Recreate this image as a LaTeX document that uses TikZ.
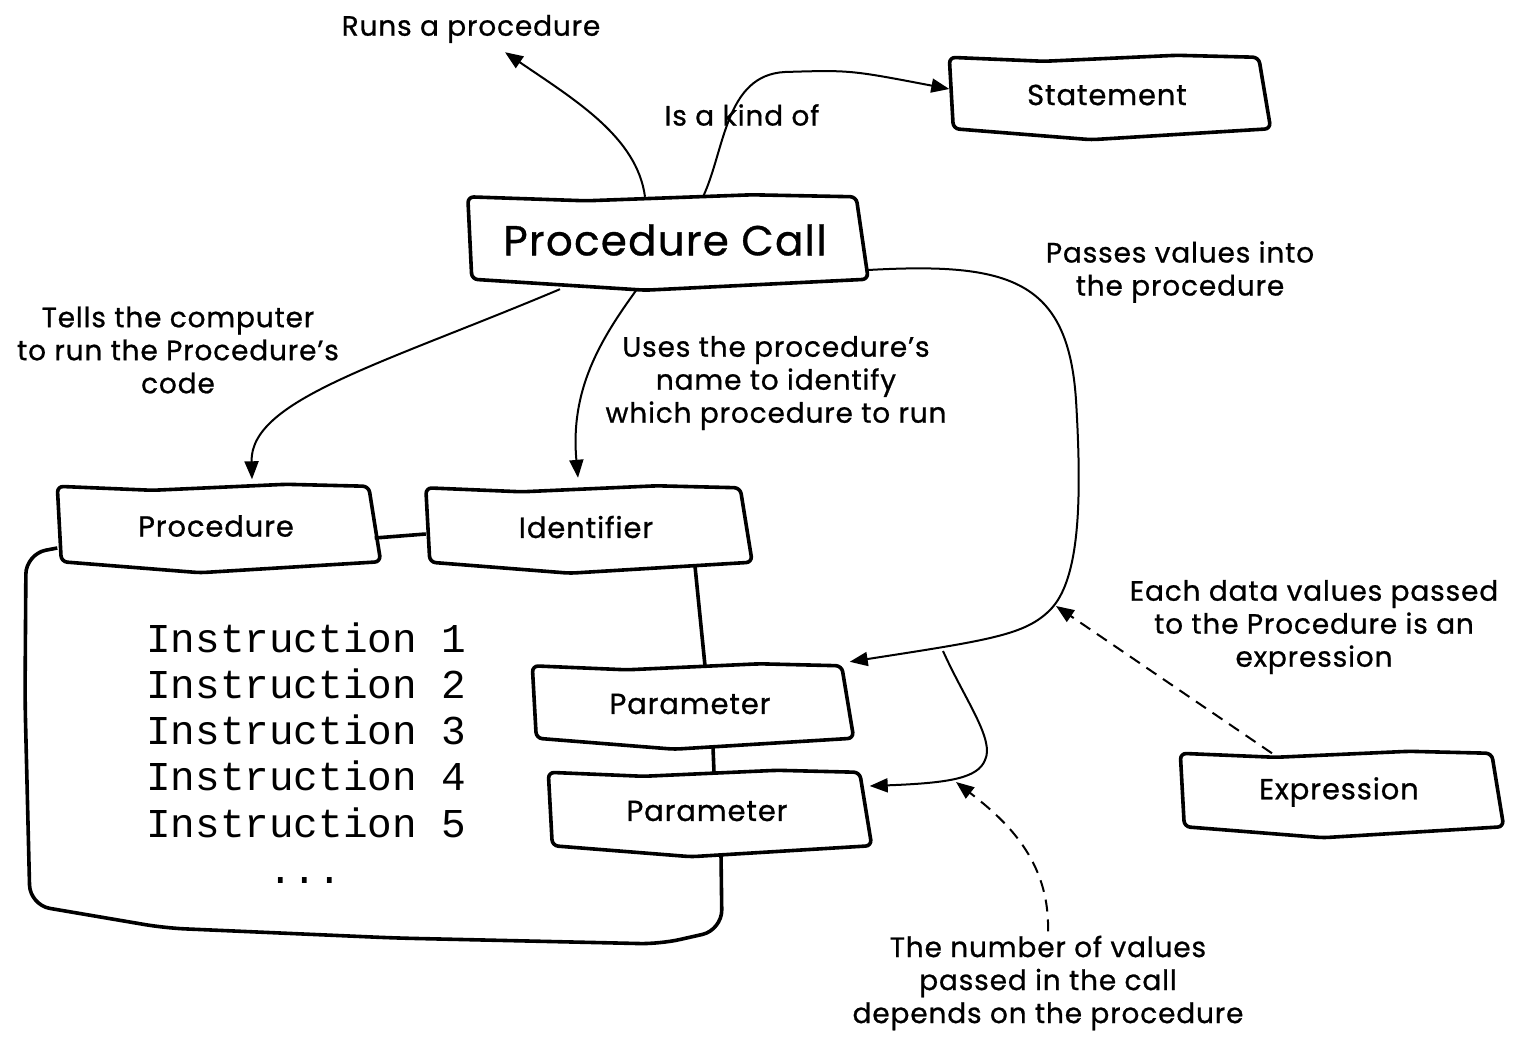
\documentclass[tikz,border=0pt]{standalone}
\usepackage{fontspec}
\setmainfont{Poppins}[LetterSpace=3,FakeBold=0.8]
\setmonofont{Liberation Mono}
\usetikzlibrary{arrows.meta,calc}

\tikzset{
  box/.style={inner sep=0pt, font=\fontsize{29}{33}\selectfont},
  outline/.style={line width=3.6pt, rounded corners=6pt, line join=round},
  link/.style={line width=3.6pt},
  conn/.style={line width=2pt, -{Triangle[length=18pt,width=14pt]}},
  hint/.style={conn, dash pattern=on 12pt off 8pt},
  note/.style={align=center, inner sep=0pt, font=\fontsize{28}{33}\selectfont},
  code/.style={inner sep=0pt, font=\ttfamily\fontsize{41}{46}\selectfont},
}

\begin{document}
\begin{tikzpicture}[x=1pt,y=-1pt]
  \useasboundingbox (0,0) rectangle (1518,1038);

  % boxes
  \node[box, minimum width=394pt, minimum height=86pt, font=\fontsize{42}{48}\selectfont] (call) at (665,240) {Procedure Call};
  \node[box, minimum width=315pt, minimum height=75pt] (stmt) at (1107,95) {Statement};
  \node[box, minimum width=317pt, minimum height=79pt] (proc) at (216,526) {Procedure};
  \node[box, minimum width=320pt, minimum height=78pt] (ident) at (586,527) {Identifier};
  \node[box, minimum width=315pt, minimum height=76pt] (parA) at (690,704) {Parameter};
  \node[box, minimum width=317pt, minimum height=77pt] (parB) at (707,811) {Parameter};
  \node[box, minimum width=317pt, minimum height=77pt] (expr) at (1339,792) {Expression};

  \foreach \n in {call,stmt,proc,ident,parA,parB,expr}
    \draw[outline] (\n.north west) -- ($(\n.north west)!0.3!(\n.north east)+(0,-4pt)$)
      -- ($(\n.north west)!0.72!(\n.north east)+(0,2pt)$) -- ($(\n.north east)+(-6pt,0)$)
      -- ($(\n.south east)+(6pt,4pt)$) -- ($(\n.south west)!0.45!(\n.south east)+(0,-7pt)$)
      -- ($(\n.south west)+(4pt,4pt)$) -- cycle;

  % procedure body
  \draw[outline, rounded corners=20pt] ([yshift=-22pt]proc.west) -- (26,554) -- (25,700)
    -- (30,905) -- (165,928) -- (395,938) -- (660,944) -- (722,930) -- ([xshift=14pt,yshift=-5pt]parB.south);
  \foreach \i in {1,...,5}
    \node[code, anchor=base west] (ins\i) at (146,605.75+46.25*\i) {Instruction \i};
  \node[code, anchor=base] (dots) at (305,883) {...};

  \draw[link] ([yshift=-12pt]proc.east) -- ([yshift=-7pt]ident.west);
  \draw[link] ([xshift=109pt]ident.south) -- ([xshift=15pt]parA.north);
  \draw[link] ([xshift=23pt,yshift=-5pt]parA.south) -- ([xshift=7pt]parB.north);

  % labels
  \node[note] (runs) at (471,29) {Runs a procedure};
  \node[note] (kind) at (742,115) {Is a kind of};
  \node[note] (passes) at (1180,272) {Passes values into\\the procedure};
  \node[note] (tells) at (178,350) {Tells the computer\\to run the Procedure's\\code};
  \node[note] (uses) at (776,383) {Uses the procedure's\\name to identify\\which procedure to run};
  \node[note] (each) at (1314,627) {Each data values passed\\to the Procedure is an\\expression};
  \node[note] (number) at (1048,983) {The number of values\\passed in the call\\depends on the procedure};

  \coordinate (fork) at (943,651);
  \coordinate (hitA) at (1056,606);
  \coordinate (hitB) at (956,782);

  % connectors
  \draw[conn] ([xshift=-20pt]call.north) .. controls (637,137) and (575,100) .. ([xshift=34pt,yshift=-9pt]runs.south);
  \draw[conn] ([xshift=38pt]call.north) .. controls (725,150) and (725,75) .. (785,72)
    .. controls (850,70) .. ([yshift=6pt]stmt.west);
  \draw[conn] ([xshift=-105pt,yshift=-6pt]call.south) .. controls (380,365) and (250,400) .. ([xshift=36pt,yshift=7pt]proc.north);
  \draw[conn] ([xshift=-28pt,yshift=-6pt]call.south) .. controls (600,340) and (570,390) .. ([xshift=-8pt,yshift=10pt]ident.north);
  \draw[conn] ([xshift=6pt,yshift=-30pt]call.east) .. controls (1010,262) and (1068,280) .. (1076,400)
    .. controls (1082,500) and (1080,580) .. (1050,610) .. controls (1025,635) and (990,640) .. ([xshift=2pt,yshift=4pt]parA.north east);
  \draw[conn] (fork) .. controls (965,700) and (995,740) .. (985,760)
    .. controls (978,778) and (950,783) .. ([xshift=4pt,yshift=25pt]parB.east);
  \draw[hint] ([xshift=-67pt]expr.north) -- (hitA);
  \draw[hint] ([yshift=4pt]number.north) .. controls (1050,860) and (1005,820) .. (hitB);
\end{tikzpicture}
\end{document}
